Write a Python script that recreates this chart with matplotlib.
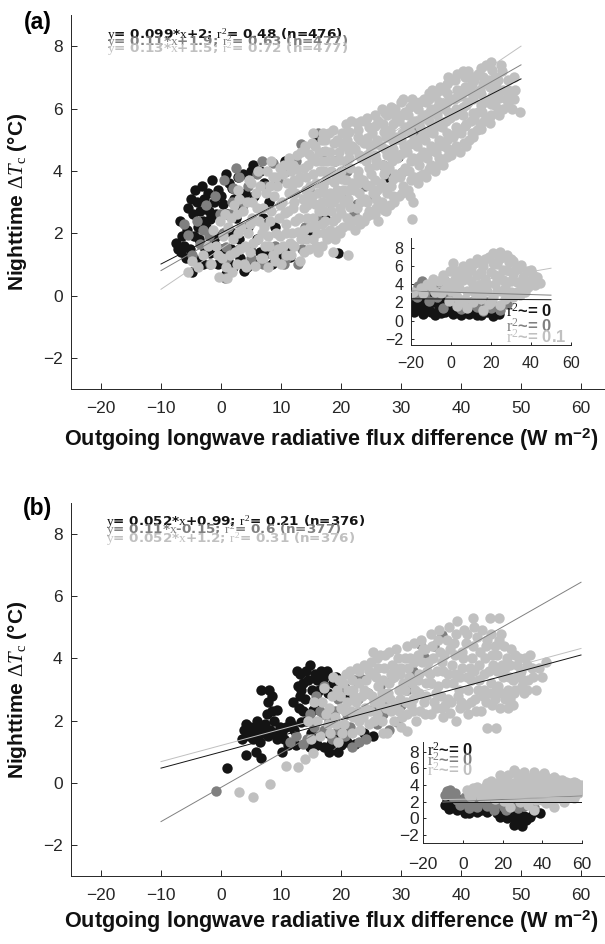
import numpy as np
import matplotlib.pyplot as plt

plt.rcParams['font.family'] = ['Liberation Sans', 'DejaVu Sans']
plt.rcParams['mathtext.fontset'] = 'custom'
plt.rcParams['mathtext.rm'] = 'Liberation Serif'
plt.rcParams['mathtext.it'] = 'Liberation Serif:italic'
plt.rcParams['mathtext.bf'] = 'Liberation Sans:bold'

colors = ['#141414', '#808080', '#c0c0c0']
axis_col = '#262626'

# ---------------- panel (a) data ----------------
a_black = [(-7.1, 1.5), (-6.6, 1.4), (-6.5, 1.9), (-5.7, 2.1), (-5.9, 1.2), (-4.9, 0.76), (-4.3, 3.4),
           (-4.1, 1.15), (-4.6, 2.6), (-3.5, 2.7), (-3.6, 1.8), (-2.9, 3.1), (-3.0, 1.0), (-2.5, 2.2),
           (-1.8, 1.35), (-1.8, 2.45), (-1.2, 3.0), (-0.45, 3.4), (-0.8, 1.9), (-0.5, 1.0), (0.4, 2.95),
           (0.5, 2.0), (0.9, 0.7), (1.3, 3.6), (1.8, 3.45), (1.6, 1.5), (2.0, 0.9), (2.5, 2.5), (3.2, 1.2),
           (3.5, 2.8), (3.7, 3.9), (4.3, 0.9), (4.5, 2.2), (5.4, 4.2), (5.5, 3.2), (5.9, 1.0), (6.0, 1.8),
           (6.5, 4.0), (7.0, 2.5), (7.6, 1.35), (8.0, 3.0), (9.0, 2.2), (10.7, 4.3), (10.9, 1.55),
           (11.5, 1.25), (11.8, 4.3), (14.3, 2.2), (14.8, 1.9), (16.0, 5.0), (17.3, 2.5), (19.5, 1.35),
           (22.6, 3.65), (27.6, 3.8), (29.5, 4.45),
           (-7.5, 1.7), (-6.8, 2.4), (-6.2, 1.6), (-5.5, 2.8), (-5.2, 1.5), (-5.0, 3.1), (-4.5, 1.9),
           (-4.0, 3.0), (-3.8, 2.2), (-3.2, 3.5), (-3.0, 2.4), (-2.6, 1.5), (-2.2, 3.3), (-2.0, 2.7),
           (-1.5, 3.7), (-1.2, 1.7), (-0.8, 2.6), (0.0, 3.2), (0.2, 1.5), (0.8, 3.9), (1.0, 2.6), (1.2, 1.1),
           (1.8, 2.0), (2.2, 3.1), (2.8, 3.8), (3.0, 1.8), (3.8, 0.8), (4.0, 3.3), (4.8, 1.5), (5.0, 4.0),
           (6.5, 1.4), (7.2, 3.6), (8.5, 1.0), (9.5, 1.3)]
a_dark = [(-5.45, 1.95), (-4.0, 2.4), (-3.5, 1.65), (-2.5, 2.9), (-2.0, 1.9), (-1.8, 1.0), (-1.0, 3.2),
          (0.4, 2.0), (0.5, 3.7), (0.7, 0.55), (0.9, 1.55), (1.0, 1.2), (1.5, 2.6), (2.05, 3.45), (3.0, 3.8),
          (3.0, 1.5), (4.5, 3.5), (5.0, 1.2), (6.0, 3.9), (7.0, 1.0), (7.5, 3.5), (8.7, 4.25), (8.7, 1.3),
          (9.0, 1.6), (9.5, 3.7), (10.9, 1.2), (11.0, 4.0), (12.0, 1.6), (12.5, 4.3), (13.4, 4.85),
          (14.0, 2.2), (15.0, 3.3), (16.0, 2.5), (16.2, 5.2), (18.0, 3.0), (19.0, 4.3), (20.0, 3.2),
          (22.1, 2.6), (22.6, 2.95), (24.0, 3.5), (27.0, 4.2), (30.1, 3.95), (32.1, 5.25),
          (-6.2, 2.3), (-4.8, 1.3), (-3.0, 2.1), (-0.2, 2.6), (1.8, 3.0), (2.5, 4.1), (3.6, 3.0),
          (6.8, 4.3), (10.5, 1.0), (12.8, 1.0), (13.5, 1.5), (17.0, 4.6), (21.0, 4.0), (25.5, 3.2)]
a_light = [(-5.5, 0.75), (-4.8, 1.1), (-3.9, 0.9), (-3.0, 1.3), (-1.3, 2.1), (-0.8, 1.6), (-1.6, 1.0),
           (-0.3, 0.6), (0.2, 1.2), (-0.1, 2.4), (0.4, 1.9), (1.0, 0.55), (1.8, 0.75), (1.5, 1.3), (2.6, 1.0),
           (1.2, 2.2), (2.6, 2.6), (2.0, 1.8), (3.0, 3.1), (2.2, 2.9), (3.2, 1.5), (3.4, 2.2), (4.2, 0.9),
           (4.8, 1.4), (5.6, 0.95), (4.5, 2.0), (5.2, 2.5), (4.4, 3.0), (5.8, 3.3), (5.0, 3.6), (6.2, 1.8),
           (6.0, 2.8), (6.6, 1.2), (7.0, 1.2), (7.6, 4.0), (8.7, 3.8), (7.2, 2.2), (8.0, 1.6), (8.4, 2.7),
           (7.5, 3.3), (9.0, 1.1), (9.2, 2.0), (8.9, 3.2), (7.0, 2.8), (10.0, 1.0), (10.4, 1.6), (10.8, 2.3),
           (10.2, 3.0), (11.0, 3.6), (10.5, 4.2), (11.6, 1.3), (11.8, 2.0), (12.0, 2.8), (11.7, 4.0),
           (12.4, 3.3), (12.6, 4.5), (13.2, 1.1), (13.4, 1.8), (13.0, 2.5), (13.6, 3.1), (13.2, 3.8),
           (13.4, 4.6), (14.6, 1.5), (14.8, 2.2), (14.4, 2.9), (14.9, 3.5), (14.5, 4.2), (15.2, 4.9),
           (15.4, 5.2), (16.2, 1.4), (16.0, 2.0), (16.4, 2.7), (16.1, 3.3), (16.5, 4.0), (16.3, 4.6),
           (17.6, 1.8), (17.4, 2.4), (17.8, 3.0), (17.5, 3.7), (17.7, 4.3), (17.4, 5.0), (18.7, 5.3),
           (18.7, 1.4), (21.2, 1.3), (19.6, 2.1), (19.8, 2.8), (19.4, 3.4), (20.0, 4.0), (19.6, 4.6),
           (20.2, 5.2), (21.0, 2.5), (21.2, 3.1), (20.8, 3.7), (21.4, 4.4), (21.0, 5.0), (21.6, 5.6),
           (22.4, 2.1), (22.6, 2.8), (22.2, 3.4), (22.8, 4.0), (22.4, 4.7), (22.8, 5.3), (23.8, 2.4),
           (24.0, 3.1), (23.6, 3.7), (24.2, 4.3), (23.8, 4.9), (24.0, 5.6), (25.2, 2.6), (25.4, 3.3),
           (25.0, 3.9), (25.6, 4.5), (25.2, 5.2), (25.6, 5.8), (26.2, 2.4), (26.8, 3.0), (26.6, 3.6),
           (27.0, 4.2), (26.6, 4.8), (27.0, 5.5), (26.8, 6.0), (28.2, 2.9), (28.4, 3.5), (28.0, 4.1),
           (28.6, 4.7), (28.2, 5.3), (28.6, 5.9), (29.6, 3.2), (29.8, 3.8), (29.4, 4.4), (30.0, 5.0),
           (29.6, 5.6), (30.0, 6.2), (31.8, 2.45), (31.5, 3.2), (31.2, 3.4), (31.4, 4.0), (31.0, 4.6),
           (31.6, 5.2), (31.2, 5.8), (31.8, 6.3), (32.8, 3.6), (33.0, 4.2), (32.6, 4.8), (33.2, 5.4),
           (32.8, 6.0), (34.2, 3.8), (34.4, 4.4), (34.0, 5.0), (34.6, 5.6), (34.2, 6.2), (34.6, 6.5),
           (35.6, 4.0), (35.8, 4.6), (35.4, 5.2), (36.0, 5.8), (35.6, 6.4), (37.0, 4.2), (37.2, 4.8),
           (36.8, 5.4), (37.4, 6.0), (37.0, 6.6), (38.4, 4.5), (38.6, 5.1), (38.2, 5.7), (38.8, 6.3),
           (38.4, 6.9), (39.8, 4.6), (40.0, 5.2), (40.4, 5.8), (40.0, 6.4), (40.6, 7.0), (41.4, 5.0),
           (41.6, 5.6), (41.2, 6.2), (41.8, 6.8), (42.6, 5.3), (42.8, 5.9), (42.4, 6.5), (42.8, 7.1),
           (43.8, 5.6), (44.0, 6.2), (43.6, 6.8), (44.2, 7.4), (45.0, 5.8), (45.2, 6.4), (45.6, 7.0),
           (46.2, 6.0), (46.4, 6.6), (46.8, 7.2), (47.5, 6.3), (47.8, 6.9), (49.8, 5.9), (49.0, 6.6),
           (-2.2, 1.6), (-0.5, 1.3), (0.8, 0.9), (0.6, 2.6), (1.6, 2.5), (2.4, 1.4), (2.9, 2.0), (3.6, 2.7),
           (3.8, 1.0), (2.8, 3.4), (4.0, 1.6), (4.9, 2.3), (5.4, 1.7), (5.2, 3.0), (6.4, 2.4), (6.5, 3.5),
           (6.1, 4.0), (4.6, 3.7), (7.8, 0.9), (7.9, 1.9), (8.2, 2.4), (8.1, 3.5), (9.5, 1.5), (9.6, 2.5),
           (9.4, 3.5), (9.8, 4.1), (8.4, 4.3), (10.8, 1.3), (10.9, 2.0), (11.2, 2.7), (11.4, 3.3),
           (11.3, 4.4), (12.2, 1.6), (12.3, 2.4), (12.2, 3.0), (12.1, 3.7), (12.0, 4.2), (13.8, 1.4),
           (13.9, 2.1), (13.8, 2.8), (14.1, 3.4), (13.9, 4.1), (14.0, 4.8), (15.3, 1.8), (15.4, 2.5),
           (15.2, 3.2), (15.4, 3.9), (15.2, 4.4), (16.8, 1.6), (16.9, 2.3), (16.8, 3.0), (17.0, 3.5),
           (16.9, 4.3), (16.8, 5.0), (18.2, 2.1), (18.3, 2.7), (18.1, 3.3), (18.4, 4.0), (18.2, 4.6),
           (18.0, 5.2), (19.0, 1.8), (19.1, 2.5), (19.0, 3.1), (19.2, 3.8), (19.0, 4.3), (19.3, 5.0),
           (20.4, 2.2), (20.5, 3.0), (20.3, 3.4), (20.6, 4.3), (20.4, 4.8), (20.8, 5.5), (21.8, 2.4),
           (21.9, 3.6), (21.8, 4.8), (23.1, 2.3), (23.2, 3.0), (23.0, 3.6), (23.3, 4.4), (23.1, 5.0),
           (23.4, 5.6), (24.6, 2.7), (24.8, 3.5), (24.6, 4.1), (24.8, 4.8), (24.6, 5.4), (25.9, 2.8),
           (26.0, 3.4), (25.9, 4.2), (26.0, 5.0), (26.1, 5.6), (27.5, 2.7), (27.6, 3.3), (27.4, 4.0),
           (27.6, 4.5), (27.5, 5.1), (27.7, 5.8), (28.9, 3.0), (29.0, 3.9), (28.9, 4.5), (29.0, 5.1),
           (29.1, 5.7), (29.0, 6.0), (30.4, 3.5), (30.6, 4.1), (30.5, 4.8), (30.6, 5.4), (30.7, 5.9),
           (32.0, 3.0), (32.1, 3.8), (32.0, 4.4), (32.2, 5.0), (32.1, 5.6), (32.3, 6.2), (33.6, 3.9),
           (33.6, 4.6), (33.7, 5.2), (33.6, 5.8), (33.8, 6.3), (35.0, 4.2), (35.0, 4.8), (35.1, 5.4),
           (35.0, 6.0), (35.2, 6.6), (36.4, 4.4), (36.3, 5.0), (36.4, 5.6), (36.3, 6.2), (36.5, 6.7),
           (37.8, 4.7), (37.7, 5.2), (37.9, 5.9), (37.7, 6.5), (37.9, 7.0), (39.1, 4.8), (39.2, 5.4),
           (39.1, 6.0), (39.3, 6.6), (39.3, 7.1), (40.8, 4.8), (40.8, 5.5), (40.9, 6.1), (40.7, 6.7),
           (41.2, 7.2), (42.0, 5.1), (42.1, 5.7), (42.0, 6.3), (42.1, 6.9), (43.2, 5.5), (43.3, 6.1),
           (43.2, 6.6), (43.4, 7.3), (44.6, 5.7), (44.8, 6.3), (44.7, 6.9), (45.0, 7.5), (45.7, 6.1),
           (45.9, 6.7), (46.6, 7.4), (47.0, 6.0), (47.0, 6.6), (48.3, 6.5), (48.5, 6.0), (48.9, 7.0),
           (10.6, 2.65), (10.3, 3.9), (11.5, 1.7), (11.9, 3.55), (12.8, 2.05), (12.9, 3.65), (12.7, 4.05),
           (14.2, 1.8), (14.3, 2.5), (14.6, 3.15), (14.2, 3.8), (14.7, 4.55), (15.8, 1.6), (15.9, 2.25),
           (15.7, 2.95), (15.8, 3.6), (15.9, 4.3), (15.7, 4.8), (17.2, 2.0), (17.1, 2.7), (17.3, 3.3),
           (17.2, 4.0), (17.3, 4.65), (17.0, 5.2), (18.6, 1.9), (18.7, 2.4), (18.6, 3.0), (18.8, 3.65),
           (18.6, 4.3), (18.8, 4.9), (19.9, 2.0), (20.0, 2.65), (19.9, 3.2), (20.1, 3.75), (19.9, 4.35),
           (20.1, 4.9), (21.4, 2.25), (21.5, 2.85), (21.3, 3.4), (21.5, 4.1), (21.3, 4.65), (21.4, 5.25),
           (22.9, 2.45), (23.0, 3.3), (22.9, 3.85), (23.0, 4.5), (22.9, 5.1), (22.7, 5.55), (24.3, 2.55),
           (24.4, 3.0), (24.3, 3.55), (24.5, 4.5), (24.3, 5.05), (24.4, 5.7), (25.7, 2.6), (25.8, 3.1),
           (25.6, 3.7), (25.8, 4.35), (25.6, 4.85), (25.7, 5.45), (27.2, 2.75), (27.3, 3.45), (27.1, 3.9),
           (27.3, 4.7), (27.2, 5.25), (27.3, 5.85), (28.6, 3.2), (28.7, 3.75), (28.5, 4.3), (28.7, 4.95),
           (28.6, 5.5), (28.4, 6.05), (30.1, 3.3), (30.2, 3.95), (30.0, 4.55), (30.2, 5.2), (30.1, 5.8),
           (30.3, 6.3), (31.6, 3.7), (31.7, 4.3), (31.5, 4.85), (31.7, 5.5), (31.5, 6.05), (33.1, 3.85),
           (33.2, 4.45), (33.1, 5.05), (33.3, 5.65), (33.2, 6.2), (34.7, 4.05), (34.8, 4.65), (34.7, 5.25),
           (34.9, 5.85), (34.7, 6.3), (36.1, 4.2), (36.2, 4.8), (36.0, 5.45), (36.2, 6.05), (36.1, 6.55),
           (37.6, 4.45), (37.7, 5.0), (37.5, 5.6), (37.7, 6.2), (37.6, 6.8), (39.0, 4.7), (39.1, 5.2),
           (39.0, 5.8), (39.2, 6.35), (39.0, 6.9), (40.5, 4.9), (40.6, 5.45), (40.4, 6.05), (40.6, 6.55),
           (40.3, 7.2), (41.9, 5.2), (42.0, 5.85), (41.8, 6.5), (42.0, 7.0), (43.4, 5.35), (43.5, 5.9),
           (43.4, 6.45), (43.6, 7.0), (44.9, 5.55), (45.0, 6.15), (44.9, 6.7), (45.1, 7.25), (46.3, 5.8),
           (46.4, 6.35), (46.2, 6.9), (47.8, 6.1), (47.9, 6.6), (48.8, 6.3), (6.8, 2.0), (7.3, 1.6),
           (8.6, 1.3), (9.8, 1.9), (9.9, 2.9), (9.2, 3.8)]

a_slopes = [0.099, 0.11, 0.13]
a_intercepts = [2.0, 1.9, 1.5]
a_fit_x = [-10, 50]
a_fit_labels = [r'$\mathrm{y}$= 0.099*$\mathrm{x}$+2; $\mathrm{r}^2$= 0.48 (n=476)',
                r'$\mathrm{y}$= 0.11*$\mathrm{x}$+1.9; $\mathrm{r}^2$= 0.63 (n=477)',
                r'$\mathrm{y}$= 0.13*$\mathrm{x}$+1.5; $\mathrm{r}^2$= 0.72 (n=477)']

# inset (a)
ia_black = [(-18.5, 1.0), (-17, 2.3), (-15, 1.5), (-14, 0.7), (-12, 2.6), (-11, 1.2), (-9, 2.0), (-8, 0.6),
            (-6, 1.5), (-4, 2.4), (-3, 0.9), (-1, 1.8), (1, 0.7), (3, 1.4), (5, 0.6), (7, 1.2), (9, 0.7),
            (12, 1.0), (15, 0.6), (18, 0.9), (21, 0.5), (24, 0.7), (-16, 2.8), (-7, 2.8),
            (-18, 1.8), (-13, 1.9), (-10, 0.9), (-5, 0.8), (-2, 1.2), (2, 1.9), (6, 1.0), (10, 1.5),
            (13, 0.6), (17, 1.4), (20, 0.9), (23, 1.1)]
ia_dark = [(-18, 3.2), (-16.5, 3.8), (-14.7, 4.3), (-13, 3.0), (-11, 2.2), (-8.8, 3.7), (-6, 3.3),
           (-3.8, 4.7), (-3.8, 1.4), (-1, 2.8), (2, 2.2), (5, 1.3), (8, 1.7), (12.8, 1.45), (16, 1.1),
           (20, 1.4), (24.5, 1.2), (28, 1.8), (-17, 2.6), (-12, 3.6), (-7, 2.6), (-4, 3.6), (4, 2.0),
           (10, 2.0), (18, 2.0), (22, 1.6)]
ia_light = [(-19, 3.2), (-13.8, 3.0), (-10, 3.8), (-8.8, 4.6), (-6, 4.3), (-5, 3.0), (-2, 4.2), (-0.5, 5.5),
            (-1, 2.2), (0, 3.3), (1.2, 6.3), (2, 4.6), (2.8, 1.6), (3, 2.6), (4, 3.6), (5, 5.4), (6, 4.5),
            (7.8, 1.4), (7, 2.4), (8, 3.3), (9.5, 6.3), (9, 5.4), (10, 4.3), (11, 2.0), (12, 3.0), (13, 6.8),
            (13, 5.0), (14, 3.9), (15, 2.4), (16.2, 1.2), (16, 6.0), (17, 4.6), (18, 3.3), (19, 1.8),
            (19, 7.0), (20, 5.3), (21.2, 7.4), (21, 2.6), (22, 4.0), (23, 6.2), (24.5, 7.5), (24, 4.8),
            (25, 3.3), (24.5, 1.7), (26, 5.6), (27, 2.4), (27.8, 7.2), (28, 4.2), (29, 6.4), (30, 3.2),
            (31.2, 6.5), (31, 5.1), (31.2, 2.6), (33, 4.2), (34, 5.8), (34.5, 2.8), (35, 3.5), (36, 4.8),
            (37.8, 5.4), (38.7, 3.7), (39, 4.4), (41, 5.0), (42, 3.9), (44.5, 4.1),
            (-15, 3.6), (-12, 4.0), (-8, 3.2), (-4, 5.0), (-3, 3.5), (1, 4.0), (3, 5.4), (4, 4.5), (6, 6.0),
            (6, 2.0), (8, 4.8), (10, 5.8), (11, 3.6), (12, 6.3), (15, 5.3), (16, 3.2), (17, 6.8), (18, 4.0),
            (20, 2.0), (21, 6.3), (22, 5.0), (23, 3.3), (24, 6.8), (26, 4.5), (26, 7.0), (27, 3.6), (28, 5.6),
            (29, 2.8), (30, 6.8), (30, 4.4), (32, 5.6), (33, 3.2), (35, 6.1), (36, 4.0), (37, 3.1), (40, 5.6),
            (41, 4.3), (43, 4.8)]
ia_fit_x = [-20, 50]
ia_fit_y = [(2.4, 2.3), (3.25, 2.8), (3.1, 5.75)]
ia_labels = [r'$\mathrm{r}^2$~= 0', r'$\mathrm{r}^2$~= 0', r'$\mathrm{r}^2$~= 0.1']

# ---------------- panel (b) data ----------------
b_black = [(0.95, 0.46), (4.1, 0.89), (3.8, 1.7), (4.6, 1.5), (5.6, 1.8), (6.2, 1.6), (7.3, 1.9), (5.9, 1.0),
           (6.7, 0.8), (6.7, 3.0), (7.9, 2.6), (8.5, 2.8), (8.8, 2.0), (9.3, 1.4), (9.3, 2.35), (10.2, 1.0),
           (10.2, 1.65), (10.8, 1.8), (11.9, 1.85), (12.5, 1.2), (13.1, 2.8), (13.1, 3.5), (13.4, 1.95),
           (13.7, 3.2), (13.7, 2.3), (14.8, 3.8), (14.8, 1.15), (15.4, 2.35), (16.0, 3.3), (16.3, 2.55),
           (16.6, 3.6), (17.2, 1.15), (17.7, 3.6), (18.3, 1.25), (19.2, 3.4), (19.5, 1.0), (20.6, 3.05),
           (22.4, 1.25), (23.8, 1.6), (25.3, 1.5),
           (3.5, 1.4), (4.2, 1.9), (5.0, 1.6), (6.0, 2.0), (6.5, 1.3), (7.0, 1.6), (7.6, 2.2), (8.2, 1.7),
           (8.0, 3.0), (9.8, 1.8), (10.5, 1.4), (11.2, 1.2), (11.5, 2.0), (12.2, 1.7), (12.8, 3.1),
           (13.0, 2.4), (14.2, 2.0), (14.2, 3.6), (15.0, 1.6), (15.8, 1.3), (16.0, 2.9), (17.0, 3.2),
           (17.8, 1.6), (18.6, 3.2), (19.0, 1.4), (20.0, 1.2), (21.0, 1.3), (21.5, 2.8),
           (4.8, 1.8), (5.4, 1.4), (6.8, 1.8), (7.8, 1.5), (8.5, 2.3), (9.0, 1.6), (12.0, 2.6), (12.6, 3.6),
           (13.4, 3.0), (14.0, 2.7), (14.5, 3.3), (15.2, 3.0), (15.6, 3.5), (16.4, 3.0), (17.2, 3.4),
           (17.8, 2.9), (16.0, 1.2), (18.0, 1.0)]
b_dark = [(-0.8, -0.25), (12.5, 1.5), (13.7, 1.25), (14.3, 1.4), (15.5, 1.8), (16.5, 2.3), (17.2, 1.7),
          (17.2, 3.1), (18.0, 2.0), (19.5, 1.7), (19.5, 2.7), (20.6, 1.5), (21.0, 2.2), (21.8, 1.15),
          (22.4, 3.3), (22.9, 2.7), (23.5, 3.35), (24.1, 1.4), (25.3, 2.35), (26.0, 1.9), (27.6, 2.7),
          (28.7, 3.4), (29.3, 1.95), (31.0, 3.0), (33.1, 4.45), (36.8, 4.75),
          (11.5, 1.3), (14.8, 2.2), (15.8, 2.8), (17.0, 2.2), (18.5, 1.4), (19.0, 2.3), (20.0, 3.0),
          (21.5, 1.8), (23.0, 2.2), (23.0, 1.3), (24.5, 2.9), (26.5, 3.1), (27.0, 2.2), (28.0, 1.7),
          (30.0, 2.5), (32.0, 3.6), (34.0, 4.0), (35.5, 4.4)]
b_light = [(3.0, -0.3), (5.3, -0.45), (8.2, -0.05), (10.8, 0.55), (12.8, 0.5), (14.0, 0.75), (15.4, 0.95),
           (14.5, 2.0), (15.5, 2.6), (16.5, 1.5), (17.2, 3.05), (17.5, 2.2), (18.2, 1.6), (18.5, 2.8),
           (19.5, 1.3), (19.6, 3.3), (20.0, 2.4), (20.5, 1.9), (21.2, 3.0), (21.5, 3.6), (22.0, 2.1),
           (22.5, 2.6), (23.0, 3.2), (23.2, 1.7), (23.8, 3.8), (24.0, 2.4), (24.5, 2.9), (25.0, 3.5),
           (25.5, 2.0), (26.0, 4.0), (26.2, 3.1), (26.5, 2.5), (27.0, 1.6), (27.2, 3.7), (27.6, 1.6),
           (27.8, 2.9), (28.0, 4.2), (28.4, 2.3), (28.8, 3.4), (29.5, 4.0), (29.8, 2.7), (30.2, 2.1),
           (30.4, 3.2), (31.0, 1.65), (31.0, 4.4), (31.2, 3.7), (31.6, 2.5), (32.5, 2.0), (32.4, 3.0),
           (32.8, 4.1), (33.0, 3.5), (33.4, 4.6), (33.8, 2.6), (34.2, 3.2), (34.5, 3.9), (35.0, 2.2),
           (35.2, 4.4), (35.8, 2.9), (36.0, 3.6), (36.4, 4.9), (36.8, 2.4), (37.2, 4.1), (37.5, 3.2),
           (38.0, 5.0), (38.2, 2.25), (38.5, 3.8), (38.8, 4.5), (39.1, 2.0), (39.5, 2.8), (39.8, 3.4),
           (40.2, 4.2), (40.5, 4.9), (40.8, 2.5), (41.2, 3.0), (41.5, 3.7), (42.0, 5.3), (42.0, 4.4),
           (42.5, 2.3), (43.0, 3.3), (43.5, 4.9), (43.6, 2.8), (44.0, 4.0), (44.4, 1.75), (44.6, 3.6),
           (44.9, 5.3), (45.2, 2.5), (45.6, 4.4), (45.8, 1.75), (46.2, 3.1), (46.4, 5.3), (46.7, 4.8),
           (46.8, 3.8), (47.4, 2.7), (47.8, 2.4), (48.0, 3.4), (48.4, 4.3), (48.8, 2.9), (49.4, 3.8),
           (49.8, 3.5), (50.1, 3.1), (50.6, 4.0), (51.2, 3.3), (51.8, 3.7), (52.5, 3.0), (53.0, 3.7),
           (54.2, 3.9),
           (15.0, 1.4), (16.0, 2.0), (16.8, 2.6), (17.8, 1.9), (18.6, 3.4), (19.0, 2.1), (19.8, 2.8),
           (20.2, 1.6), (20.8, 3.5), (21.0, 2.6), (21.8, 1.6), (22.0, 3.0), (22.6, 3.7), (23.0, 2.0),
           (23.5, 2.8), (24.2, 3.3), (24.6, 1.9), (25.0, 3.9), (25.5, 2.6), (25.8, 3.4), (26.5, 4.1),
           (26.8, 2.0), (26.9, 2.9), (27.5, 2.4), (28.0, 3.2), (28.5, 3.8), (29.0, 2.5), (29.2, 4.3),
           (29.6, 3.0), (30.0, 1.8), (30.0, 3.7), (30.8, 2.6), (31.5, 4.0), (31.8, 3.2), (32.0, 2.3),
           (32.2, 4.5), (33.0, 2.9), (33.5, 3.9), (34.0, 2.2), (34.0, 4.3), (34.8, 3.5), (35.0, 4.8),
           (35.5, 2.6), (36.2, 3.1), (36.5, 4.2), (37.0, 2.1), (37.0, 3.6), (37.6, 4.6), (37.8, 2.7),
           (38.6, 3.2), (39.0, 4.1), (39.4, 5.2), (39.8, 2.4), (40.2, 3.7), (40.8, 4.5), (41.2, 2.2),
           (41.6, 3.3), (41.8, 4.0), (42.4, 2.7), (42.6, 4.7), (43.0, 3.8), (43.4, 2.3), (43.8, 3.0),
           (44.2, 4.4), (44.6, 2.9), (45.0, 4.8), (45.4, 3.8), (45.8, 3.0), (46.0, 4.1), (46.5, 2.4),
           (47.0, 3.4), (47.2, 4.4), (47.8, 3.0), (48.2, 3.8), (48.6, 2.5), (49.0, 4.1), (49.0, 3.0),
           (50.0, 3.6), (50.5, 2.9), (51.0, 3.8), (52.0, 3.4), (53.5, 3.4),
           (18.0, 2.4), (19.2, 1.9), (19.3, 3.0), (20.6, 2.3), (20.4, 3.2), (21.6, 2.3), (21.8, 3.3),
           (22.2, 2.8), (22.8, 2.3), (23.0, 3.6), (23.7, 2.1), (23.9, 3.0), (24.8, 2.3), (24.6, 3.6),
           (25.2, 2.8), (25.4, 4.2), (26.0, 2.2), (26.2, 3.7), (26.6, 2.7), (27.0, 3.3), (27.4, 4.1),
           (28.2, 2.7), (28.4, 3.5), (28.8, 2.0), (29.0, 3.7), (29.6, 2.3), (29.8, 3.5), (30.6, 3.0),
           (30.6, 4.0), (31.0, 2.2), (31.4, 3.4), (32.0, 2.7), (32.2, 3.9), (32.8, 3.3), (33.2, 2.3),
           (33.6, 4.3), (34.2, 2.8), (34.4, 3.6), (35.0, 3.2), (35.4, 4.0), (35.8, 2.4), (36.2, 4.6),
           (36.6, 2.8), (36.8, 3.9), (37.4, 2.5), (37.8, 3.5), (38.2, 4.3), (38.4, 2.6), (39.0, 3.5),
           (39.2, 4.8), (39.6, 3.0), (40.0, 2.6), (40.4, 4.0), (41.0, 3.4), (41.0, 4.8), (41.6, 2.6),
           (42.2, 3.6), (42.2, 5.0), (42.8, 3.0), (43.2, 4.2), (43.8, 3.5), (44.2, 2.6), (44.4, 4.6),
           (45.0, 3.2), (45.2, 4.1), (45.6, 2.7), (46.0, 3.6), (46.4, 4.6), (46.8, 2.9), (47.4, 3.7),
           (47.6, 4.0), (48.2, 2.7), (48.6, 3.3), (49.4, 3.4), (49.6, 4.0), (50.4, 3.3), (51.0, 3.0),
           (51.5, 4.1)]

b_slopes = [0.052, 0.11, 0.052]
b_intercepts = [0.99, -0.15, 1.2]
b_fit_x = [-10, 60]
b_fit_labels = [r'$\mathrm{y}$= 0.052*$\mathrm{x}$+0.99; $\mathrm{r}^2$= 0.21 (n=376)',
                r'$\mathrm{y}$= 0.11*$\mathrm{x}$-0.15; $\mathrm{r}^2$= 0.6 (n=377)',
                r'$\mathrm{y}$= 0.052*$\mathrm{x}$+1.2; $\mathrm{r}^2$= 0.31 (n=376)']

# inset (b)
ib_black = [(-8, 2.2), (-9, 1.6), (-7, 1.1), (-5, 2.0), (-3, 1.0), (-2, 1.8), (0, 1.3), (1, 0.6), (2, 2.0),
            (4, 1.0), (5, 1.7), (7.1, 0.8), (8, 2.3), (10.5, 3.4), (10, 1.5), (12, 0.7), (13.9, 4.0), (14, 2.2),
            (15, 1.3), (17, 0.6), (18.9, 0.2), (20, 1.5), (22.3, 0.0), (24, 0.6), (25.6, -0.8), (27, -0.3),
            (29, -0.4), (31, 0.3), (34, 0.2), (36, 0.8), (39.1, 0.6),
            (-6, 1.5), (-4, 1.3), (-1, 2.2), (3, 0.6), (6, 1.3), (9, 1.0), (11, 2.2), (13, 1.0), (16, 1.8),
            (21, 1.0), (23, 1.6), (26, 0.2), (28, 0.6), (30, -0.9), (32, -0.2)]
ib_dark = [(-8, 3.3), (-6.5, 3.4), (-5, 2.5), (-3, 2.2), (-1.3, 1.6), (1, 2.6), (3, 1.2), (5, 2.2), (7.1, 1.4),
           (9, 1.9), (12, 1.5), (15.5, 1.0), (18, 1.8), (20.6, 1.4), (24, 1.9), (28, 1.2), (35.7, 1.4),
           (-9, 2.8), (-4, 3.0), (2, 1.8), (6, 2.8), (10, 2.4), (14, 1.7), (17, 2.4), (22, 1.0), (26, 1.6),
           (31, 1.5)]
ib_light = [(2.1, 3.4), (4, 2.6), (6, 3.1), (7.1, 3.8), (9, 2.6), (10, 3.3), (12.2, 4.2), (13, 2.9), (15, 3.6),
            (16, 2.3), (17, 4.3), (18.9, 5.2), (19, 3.0), (20, 3.9), (21, 2.1), (22, 4.6), (23, 3.3), (24, 1.4),
            (25.6, 5.8), (25, 2.6), (26, 4.2), (27, 3.5), (28, 5.0), (29, 2.0), (30, 2.9), (30, 4.3), (31, 5.6),
            (32, 3.6), (33, 1.6), (34, 2.6), (34, 4.9), (35.7, 5.6), (35.7, 1.0), (36, 3.4), (37, 4.3),
            (38, 2.3), (39, 5.1), (40, 3.0), (40.8, 5.4), (41, 3.9), (42, 1.8), (43, 4.6), (44, 2.6), (45, 3.4),
            (45.8, 5.0), (46, 1.4), (47, 4.1), (48, 2.4), (49, 3.2), (50, 4.6), (51, 2.0), (52, 3.8), (53, 2.8),
            (54, 4.3), (55.9, 2.4), (56, 3.4), (57, 4.2), (59.3, 4.0), (58, 3.0),
            (3, 2.8), (5, 3.6), (8, 3.2), (11, 3.8), (12, 2.5), (14, 4.5), (16, 3.0), (18, 4.0), (20, 4.8),
            (21, 3.3), (22, 2.6), (23, 5.2), (24, 4.0), (26, 3.0), (27, 5.4), (28, 2.6), (29, 4.6), (30, 3.6),
            (31, 2.2), (32, 5.0), (33, 4.2), (35, 3.0), (36, 5.0), (37, 2.2), (38, 3.8), (39, 4.6), (40, 2.2),
            (42, 3.2), (42, 5.0), (44, 4.2), (44, 1.9), (46, 3.0), (48, 4.6), (48, 3.6), (50, 2.6), (50, 3.8),
            (52, 4.4), (52, 2.4), (54, 3.2), (56, 4.4), (57, 2.9), (58, 3.8)]
ib_fit_x = [-10, 60]
ib_fit_y = [(1.98, 1.98), (1.95, 2.68), (2.25, 2.55)]
ib_labels = [r'$\mathrm{r}^2$~= 0', r'$\mathrm{r}^2$~= 0', r'$\mathrm{r}^2$~= 0']

xticks_main = [-20, -10, 0, 10, 20, 30, 40, 50, 60]
yticks = [-2, 0, 2, 4, 6, 8]
xticks_inset = [-20, 0, 20, 40, 60]


def style_axes(ax, fs, xpad, ypad, tlen):
    for s in ['top', 'right']:
        ax.spines[s].set_visible(False)
    for s in ['left', 'bottom']:
        ax.spines[s].set_color(axis_col)
        ax.spines[s].set_linewidth(0.7)
    ax.tick_params(direction='in', length=tlen, width=0.7, color=axis_col,
                   labelcolor=axis_col, labelsize=fs)
    ax.tick_params(axis='x', pad=xpad)
    ax.tick_params(axis='y', pad=ypad)


def scatter_sets(ax, sets):
    for pts, c in zip(sets, colors):
        arr = np.array(pts)
        ax.scatter(arr[:, 0], arr[:, 1], s=56, color=c, linewidths=0, zorder=2)


fig = plt.figure(figsize=(6.05, 9.44), dpi=100)

panels = [
    dict(rect=[71 / 605, 1 - 389 / 944, 540 / 605, 374 / 944], sets=[a_black, a_dark, a_light],
         slopes=a_slopes, icpt=a_intercepts, fx=a_fit_x, labels=a_fit_labels,
         lab_x=0.0667, lab_y=[0.947, 0.927, 0.908], tag='(a)', tag_y=1 - 23 / 944, xl_y=1 - 446 / 944,
         yl_y=1 - 202 / 944,
         irect=[411 / 605, 1 - 345 / 944, 160 / 605, 107 / 944], iylim=(-2.66, 9.06),
         isets=[ia_black, ia_dark, ia_light], ifx=ia_fit_x, ify=ia_fit_y, ilabels=ia_labels,
         ilab_x=0.594, ilab_y=[0.32, 0.18, 0.078], ifs=11.5, ixpad=8, iypad=5.5),
    dict(rect=[71 / 605, 1 - 876 / 944, 540 / 605, 373 / 944], sets=[b_black, b_dark, b_light],
         slopes=b_slopes, icpt=b_intercepts, fx=b_fit_x, labels=b_fit_labels,
         lab_x=0.0648, lab_y=[0.947, 0.926, 0.903], tag='(b)', tag_y=1 - 508 / 944, xl_y=1 - 928 / 944,
         yl_y=1 - 689.5 / 944,
         irect=[423 / 605, 1 - 843.3 / 944, 159 / 605, 101.6 / 944], iylim=(-3.0, 9.2),
         isets=[ib_black, ib_dark, ib_light], ifx=ib_fit_x, ify=ib_fit_y, ilabels=ib_labels,
         ilab_x=0.023, ilab_y=[0.925, 0.827, 0.728], ifs=12.5, ixpad=10, iypad=3),
]

for p in panels:
    ax = fig.add_axes(p['rect'])
    scatter_sets(ax, p['sets'])
    fx = np.array(p['fx'], dtype=float)
    for m, b0, c in zip(p['slopes'], p['icpt'], colors):
        ax.plot(fx, m * fx + b0, color=c, lw=0.7, zorder=3)
    ax.set_xlim(-25, 65)
    ax.set_ylim(-3, 9)
    ax.set_xticks(xticks_main)
    ax.set_yticks(yticks)
    style_axes(ax, 12.5, 8.5, 6, 4.5)
    for txt, c, yy in zip(p['labels'], colors, p['lab_y']):
        ax.text(p['lab_x'], yy, txt, transform=ax.transAxes, color=c, fontsize=9.7,
                family='DejaVu Sans', fontweight='bold', va='center', ha='left')
    fig.text(37.5 / 605, p['tag_y'], p['tag'], fontsize=16.5, fontweight='bold', ha='center', va='center')
    fig.text(331 / 605, p['xl_y'], r'Outgoing longwave radiative flux difference (W m$^{\mathbf{-2}}$)',
             fontsize=15.6, fontweight='bold', ha='center', va='baseline', color='#111111')
    fig.text(18 / 605, p['yl_y'], r'Nighttime $\Delta T_\mathrm{c}$ (°C)', rotation=90,
             fontsize=15, fontweight='bold', ha='center', va='center', color='#111111')

    # inset
    ins = fig.add_axes(p['irect'])
    ins.set_facecolor('white')
    scatter_sets(ins, p['isets'])
    ifx = np.array(p['ifx'], dtype=float)
    for (y0, y1), c in zip(p['ify'], colors):
        ins.plot(ifx, [y0, y1], color=c, lw=0.7, zorder=3)
    ins.set_xlim(-20, 60)
    ins.set_ylim(*p['iylim'])
    ins.set_xticks(xticks_inset)
    ins.set_yticks(yticks)
    style_axes(ins, p['ifs'], p['ixpad'], p['iypad'], 2.5)
    for txt, c, yy in zip(p['ilabels'], colors, p['ilab_y']):
        ins.text(p['ilab_x'], yy, txt, transform=ins.transAxes, color=c, fontsize=12,
                 fontweight='bold', va='center', ha='left', zorder=5)

fig.savefig('out.png', dpi=100)
